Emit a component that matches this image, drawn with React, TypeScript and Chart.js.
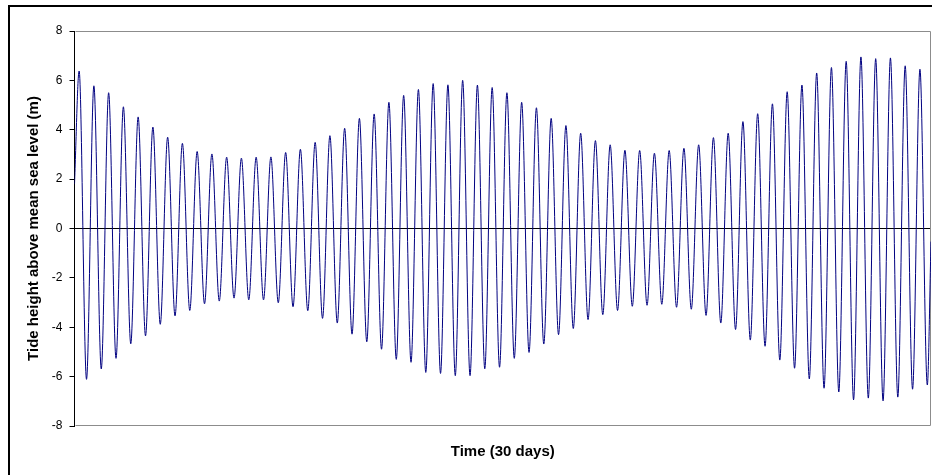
import React, { useEffect, useRef } from "react";
import { Chart, registerables } from "chart.js";

Chart.register(...registerables);

// Time axis (hours over 30 days)
const TOTAL_HOURS = 720;
const FIRST_HIGH_HOUR = 3.9;
const TIDE_PERIOD_HOURS = 12.4;

// Values (metres)
const startValue = 1.8;
const endValue = -0.53;

const highWaters = [
  6.38, 5.78, 5.5, 4.93, 4.52, 4.11, 3.7, 3.45, 3.12, 3.02,
  2.89, 2.85, 2.89, 2.9, 3.08, 3.21, 3.49, 3.76, 4.06, 4.46,
  4.64, 5.11, 5.39, 5.63, 5.87, 5.82, 6.0, 5.81, 5.71, 5.5,
  5.11, 4.89, 4.46, 4.17, 3.86, 3.56, 3.39, 3.17, 3.16, 3.05,
  3.16, 3.25, 3.39, 3.68, 3.86, 4.33, 4.65, 5.05, 5.54, 5.81,
  6.3, 6.52, 6.77, 6.95, 6.88, 6.91, 6.59, 6.45,
];

const lowWaters = [
  -6.11, -5.69, -5.26, -4.67, -4.35, -3.88, -3.54, -3.32, -3.05, -2.94,
  -2.82, -2.89, -2.89, -3.01, -3.17, -3.33, -3.64, -3.83, -4.28, -4.59,
  -4.89, -5.3, -5.42, -5.83, -5.87, -5.96, -5.96, -5.68, -5.62, -5.26,
  -5.02, -4.68, -4.3, -4.05, -3.69, -3.49, -3.32, -3.15, -3.11, -3.07,
  -3.19, -3.27, -3.52, -3.83, -4.09, -4.52, -4.77, -5.33, -5.66, -6.09,
  -6.47, -6.62, -6.94, -6.87, -6.98, -6.83, -6.51, -6.34,
];

const yTickValues = [-8, -6, -4, -2, 0, 2, 4, 6, 8];

const FONT = "'Liberation Sans', Arial, Helvetica, sans-serif";

function buildPoints() {
  const pts: { x: number; y: number }[] = [{ x: 0, y: startValue }];
  highWaters.forEach((h, i) => {
    pts.push({ x: FIRST_HIGH_HOUR + i * TIDE_PERIOD_HOURS, y: h });
    pts.push({ x: FIRST_HIGH_HOUR + (i + 0.5) * TIDE_PERIOD_HOURS, y: lowWaters[i] });
  });
  pts.push({ x: TOTAL_HOURS, y: endValue });
  return pts;
}

const plotFrame = {
  id: "plotFrame",
  beforeDatasetsDraw(chart: any) {
    const { ctx, chartArea } = chart;
    const l = Math.round(chartArea.left) + 0.5;
    const r = Math.round(chartArea.right) - 0.5;
    const t = Math.round(chartArea.top) + 0.5;
    const b = Math.round(chartArea.bottom) - 0.5;
    ctx.save();
    ctx.strokeStyle = "#8c8c8c";
    ctx.lineWidth = 1;
    ctx.beginPath();
    ctx.moveTo(l, t);
    ctx.lineTo(r, t);
    ctx.lineTo(r, b);
    ctx.lineTo(l, b);
    ctx.stroke();
    ctx.restore();
  },
};

export default function App() {
  const canvasRef = useRef<HTMLCanvasElement | null>(null);

  useEffect(() => {
    if (!canvasRef.current) return;
    const chart = new Chart(canvasRef.current, {
      type: "line",
      data: {
        datasets: [
          {
            data: buildPoints(),
            borderColor: "#000080",
            borderWidth: 1,
            pointRadius: 0,
            fill: false,
            cubicInterpolationMode: "monotone",
          },
        ],
      },
      options: {
        animation: false,
        responsive: false,
        maintainAspectRatio: false,
        parsing: false as any,
        layout: { padding: { left: 0, right: 1, top: 31, bottom: 0 } },
        plugins: {
          legend: { display: false },
          tooltip: { enabled: false },
        },
        scales: {
          x: {
            type: "linear",
            min: 0,
            max: TOTAL_HOURS,
            ticks: { display: false },
            grid: { display: false, drawTicks: false },
            border: { display: false },
            title: {
              display: true,
              text: "Time (30 days)",
              color: "#000",
              font: { family: FONT, size: 15, weight: "bold" },
              padding: { top: 0, bottom: 14 },
            },
            afterFit: (s: any) => {
              s.height = 49;
            },
          },
          y: {
            type: "linear",
            min: -8,
            max: 8,
            afterBuildTicks: (s: any) => {
              s.ticks = yTickValues.map((v) => ({ value: v }));
            },
            ticks: {
              color: "#000",
              font: { family: FONT, size: 12 },
              padding: 7,
            },
            grid: {
              color: (c: any) => (c.tick && c.tick.value === 0 ? "#000" : "rgba(0,0,0,0)"),
              tickColor: "#000",
              tickLength: 5,
              lineWidth: 1,
            },
            border: { display: true, color: "#000", width: 1 },
            title: {
              display: true,
              text: "Tide height above mean sea level (m)",
              color: "#000",
              font: { family: FONT, size: 15, weight: "bold" },
              padding: { top: 25, bottom: 0 },
            },
            afterFit: (s: any) => {
              s.width = 74.5;
            },
          },
        },
      },
      plugins: [plotFrame],
    });
    return () => chart.destroy();
  }, []);

  return (
    <div
      style={{
        position: "fixed",
        left: 0,
        top: 0,
        width: 932,
        height: 475,
        overflow: "hidden",
        background: "#fff",
      }}
    >
      <div
        style={{
          position: "absolute",
          left: 8,
          top: 5,
          width: 1000,
          height: 1000,
          borderLeft: "2px solid #000",
          borderTop: "2px solid #000",
        }}
      />
      <canvas
        ref={canvasRef}
        width={932}
        height={475}
        style={{ position: "absolute", left: 0, top: 0, width: 932, height: 475 }}
      />
    </div>
  );
}
